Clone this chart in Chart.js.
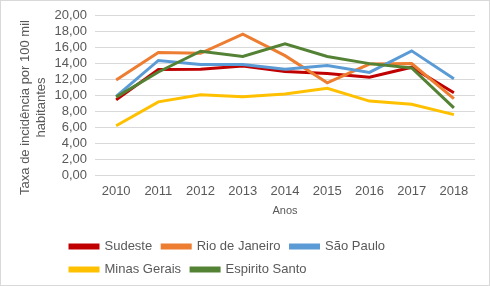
<!DOCTYPE html>
<html>
<head>
<meta charset="utf-8">
<script src="https://cdn.jsdelivr.net/npm/chart.js@4/dist/chart.umd.min.js"></script>
<style>
  body { margin: 0; background: #fff; }
  #wrap { position: relative; width: 490px; height: 286px; }
</style>
</head>
<body>
<div id="wrap"><canvas id="myChart"></canvas></div>
<script>
var anos = ['2010', '2011', '2012', '2013', '2014', '2015', '2016', '2017', '2018'];

var sudeste = [9.45, 13.25, 13.3, 13.7, 13.0, 12.75, 12.3, 13.55, 10.35];
var rioDeJaneiro = [11.95, 15.4, 15.3, 17.7, 15.0, 11.6, 13.95, 14.0, 9.6];
var saoPaulo = [9.9, 14.4, 13.9, 13.9, 13.3, 13.75, 12.9, 15.6, 12.1];
var minasGerais = [6.2, 9.2, 10.1, 9.85, 10.2, 10.9, 9.3, 8.9, 7.6];
var espiritoSanto = [9.8, 12.95, 15.55, 14.9, 16.5, 14.9, 14.0, 13.45, 8.45];

var nomes = ['Sudeste', 'Rio de Janeiro', 'São Paulo', 'Minas Gerais', 'Espirito Santo'];
var cores = ['#C00000', '#ED7D31', '#5B9BD5', '#FFC000', '#548235'];
var series = [sudeste, rioDeJaneiro, saoPaulo, minasGerais, espiritoSanto];

var cinza = '#595959';
var fonte = 'Liberation Sans, Arial, sans-serif';

// legend sits left like the excel one, y title a bit lower, thin border round the chart
var ajustes = {
  id: 'ajustes',
  afterLayout: function (chart) {
    var lg = chart.legend;
    var dx = 60 - lg.left;
    lg.left += dx;
    lg.right += dx;
    var y = chart.scales.y;
    y.bottom += 24;
    y.height += 24;
  },
  afterDraw: function (chart) {
    var c = chart.ctx;
    c.save();
    c.strokeStyle = '#d9d9d9';
    c.lineWidth = 1;
    c.strokeRect(0.5, 0.5, chart.width - 1, chart.height - 1);
    c.restore();
  }
};

var datasets = [];
for (var i = 0; i < series.length; i++) {
  datasets.push({
    label: nomes[i],
    data: series[i],
    borderColor: cores[i],
    backgroundColor: cores[i],
    borderWidth: 3,
    pointRadius: 0,
    tension: 0,
    fill: false,
    order: series.length - i
  });
}

var ctx = document.getElementById('myChart');

var myChart = new Chart(ctx, {
  type: 'line',
  data: { labels: anos, datasets: datasets },
  plugins: [ajustes],
  options: {
    responsive: true,
    maintainAspectRatio: false,
    animation: false,
    layout: { padding: { top: 10, left: 12, right: 15, bottom: 0 } },
    plugins: {
      tooltip: { enabled: false },
      legend: {
        position: 'bottom',
        align: 'start',
        fullSize: false,
        labels: {
          boxWidth: 28,
          boxHeight: 3,
          padding: 10,
          color: cinza,
          font: { family: fonte, size: 13 },
          sort: function (a, b) { return a.datasetIndex - b.datasetIndex; }
        }
      }
    },
    scales: {
      x: {
        offset: true,
        grid: { display: false, drawTicks: false },
        border: { display: false },
        ticks: { color: cinza, padding: 8, font: { family: fonte, size: 13 }, maxRotation: 0 },
        title: {
          display: true,
          text: 'Anos',
          color: cinza,
          font: { family: fonte, size: 11 },
          padding: { top: -2, bottom: 12 }
        }
      },
      y: {
        min: 0,
        max: 20,
        grid: { color: '#d9d9d9', drawTicks: false },
        border: { display: false },
        ticks: {
          stepSize: 2,
          autoSkip: false,
          color: cinza,
          padding: 8,
          font: { family: fonte, size: 13 },
          callback: function (v) { return v.toFixed(2).replace('.', ','); }
        },
        title: {
          display: true,
          text: ['Taxa de incidência por 100 mil', 'habitantes'],
          color: cinza,
          font: { family: fonte, size: 13, lineHeight: 1.3 },
          padding: { top: 4.5, bottom: -3.8 }
        }
      }
    }
  }
});
</script>
</body>
</html>
